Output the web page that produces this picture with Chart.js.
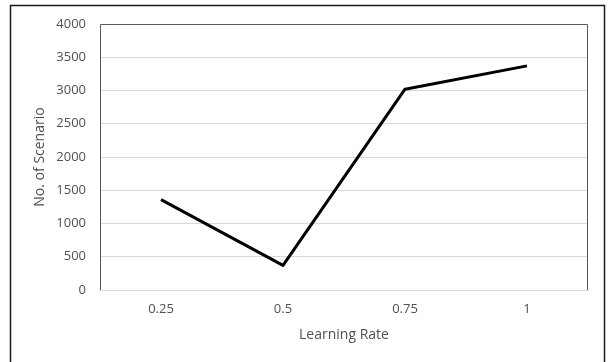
<!DOCTYPE html>
<html>
<head>
<meta charset="utf-8">
<script src="https://cdn.jsdelivr.net/npm/chart.js@4"></script>
<style>
  html, body { margin: 0; padding: 0; background: #fff; }
  #wrap { width: 609px; height: 362px; }
</style>
</head>
<body>
<div id="wrap"><canvas id="canva1" width="609" height="362"></canvas></div>
<script>
const rates = ["0.25", "0.5", "0.75", "1"];
const scenarios = [1360, 370, 3020, 3370];
const yTicks = [0, 500, 1000, 1500, 2000, 2500, 3000, 3500, 4000];

const textColor = "#505050";
const fontFamily = "'Open Sans', Lato, sans-serif";

// white background, outer box (open at the bottom) and the plot frame
const frames = {
    id: "frames",
    beforeDraw(chart){
        const ctx = chart.ctx;
        ctx.save();
        ctx.fillStyle = "#fff";
        ctx.fillRect(0, 0, chart.width, chart.height);
        ctx.strokeStyle = "#1a1a1a";
        ctx.lineWidth = 1.5;
        ctx.beginPath();
        ctx.moveTo(10.5, chart.height);
        ctx.lineTo(10.5, 5.5);
        ctx.lineTo(604.5, 5.5);
        ctx.lineTo(604.5, chart.height);
        ctx.stroke();
        ctx.restore();
    },
    afterDatasetsDraw(chart){
        const a = chart.chartArea;
        const ctx = chart.ctx;
        ctx.save();
        ctx.strokeStyle = "#595959";
        ctx.lineWidth = 1;
        ctx.beginPath();
        ctx.moveTo(Math.round(a.left) + 0.5, Math.round(a.bottom));
        ctx.lineTo(Math.round(a.left) + 0.5, Math.round(a.top) + 0.5);
        ctx.lineTo(Math.round(a.right) - 0.5, Math.round(a.top) + 0.5);
        ctx.lineTo(Math.round(a.right) - 0.5, Math.round(a.bottom));
        ctx.stroke();
        ctx.restore();
    }
};

window.onload = function(){
    let canva1 = document.getElementById("canva1");
    let grafico1 = new Chart(canva1, {
        type: "line",
        data:{
            labels: rates,
            datasets:[{
                label: "No. of Scenario",
                data: scenarios,
                borderColor: "#000",
                borderWidth: 3,
                borderJoinStyle: "round",
                pointRadius: 0,
                tension: 0,
                fill: false
            }]
        },
        options:{
            responsive: false,
            animation: false,
            layout: { padding: { left: 0, top: 24, right: 21, bottom: 0 } },
            plugins: { legend: { display: false }, tooltip: { enabled: false } },
            scales: {
                x: {
                    offset: true,
                    grid: { display: false, drawTicks: false },
                    border: { display: true, color: "#d9d9d9", width: 1 },
                    ticks: { color: textColor, padding: 11, font: { family: fontFamily, size: 13 } },
                    title: {
                        display: true, text: "Learning Rate", color: textColor,
                        padding: { top: 0, bottom: 18.5 },
                        font: { family: fontFamily, size: 14 }
                    },
                    afterFit(scale){ scale.height = 72; }
                },
                y: {
                    min: 0, max: 4000,
                    afterBuildTicks(scale){ scale.ticks = yTicks.map(v => ({ value: v })); },
                    grid: { color: "#d9d9d9", drawTicks: false },
                    border: { display: false },
                    ticks: {
                        color: textColor, padding: 14,
                        font: { family: fontFamily, size: 13 },
                        callback: v => String(v)
                    },
                    title: {
                        display: true, text: "No. of Scenario", color: textColor,
                        padding: { top: 31.5, bottom: 0 },
                        font: { family: fontFamily, size: 14 }
                    },
                    afterFit(scale){ scale.width = 100; }
                }
            }
        },
        plugins: [frames]
    });
}
</script>
</body>
</html>
